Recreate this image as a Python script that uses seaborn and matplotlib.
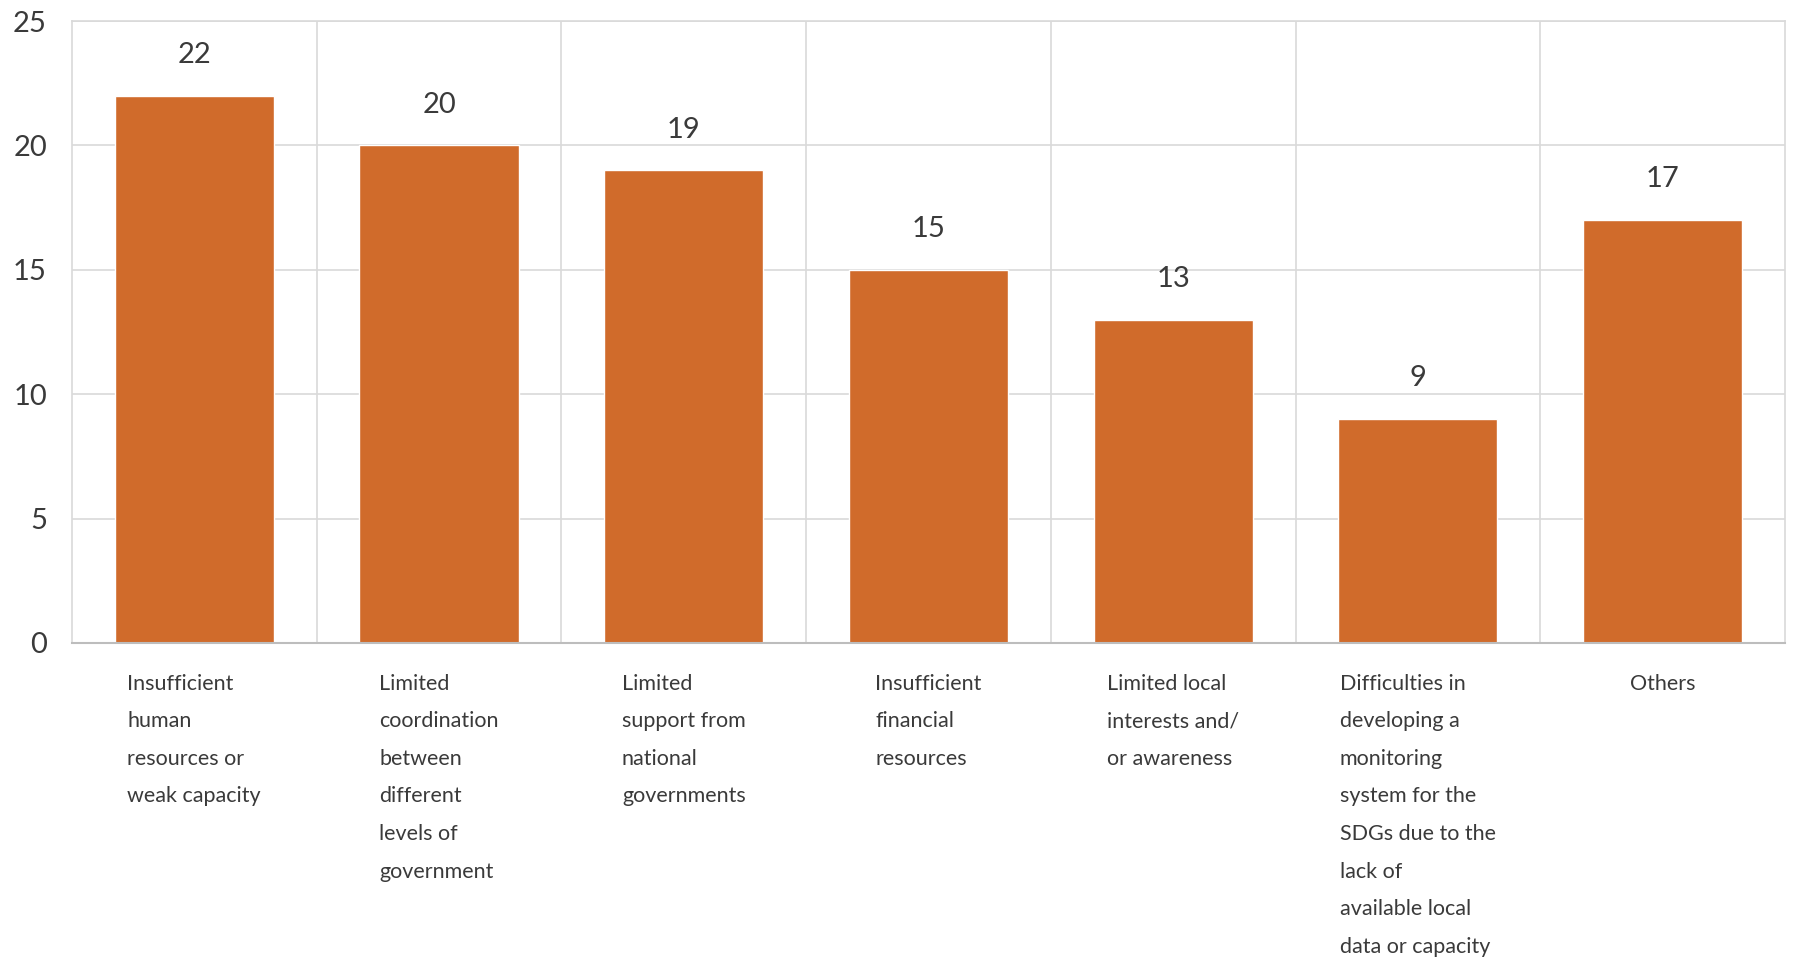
import matplotlib
matplotlib.use("Agg")
import matplotlib.pyplot as plt
import seaborn as sns
import pandas as pd

categories = [
    "Insufficient\nhuman\nresources or\nweak capacity",
    "Limited\ncoordination\nbetween\ndifferent\nlevels of\ngovernment",
    "Limited\nsupport from\nnational\ngovernments",
    "Insufficient\nfinancial\nresources",
    "Limited local\ninterests and/\nor awareness",
    "Difficulties in\ndeveloping a\nmonitoring\nsystem for the\nSDGs due to the\nlack of\navailable local\ndata or capacity",
    "Others",
]
counts = [22, 20, 19, 15, 13, 9, 17]
y_ticks = [0, 5, 10, 15, 20, 25]

BAR_COLOR = "#D06B2B"
TEXT_COLOR = "#3a3a3a"
GRID_COLOR = "#d9d9d9"

sns.set_theme(style="white")
plt.rcParams["font.family"] = ["Lato", "DejaVu Sans"]

df = pd.DataFrame({"category": categories, "count": counts})

fig = plt.figure(figsize=(17.94, 9.71), dpi=100)
ax = fig.add_axes([0.0401, 0.3378, 0.9549, 0.6405])

sns.barplot(data=df, x="category", y="count", color=BAR_COLOR, width=0.65,
            saturation=1, ax=ax)

ax.set_xlim(-0.5, len(categories) - 0.5)
ax.set_ylim(0, 25)
ax.set_yticks(y_ticks)
ax.set_yticklabels([str(t) for t in y_ticks], fontsize=21, color=TEXT_COLOR)

# vertical separators between categories
ax.set_xticks([i + 0.5 for i in range(len(categories) - 1)], minor=True)
ax.grid(axis="y", color=GRID_COLOR, linewidth=1.2)
ax.grid(axis="x", which="minor", color=GRID_COLOR, linewidth=1.2)
ax.set_axisbelow(True)

ax.set_xticks(range(len(categories)))
ax.set_xticklabels(categories, fontsize=15.5, color=TEXT_COLOR,
                   ha="center", va="top", multialignment="left", linespacing=2.1)
ax.tick_params(axis="x", which="both", length=0, pad=22)
ax.tick_params(axis="y", length=0, pad=18)

for side in ["top", "right", "left"]:
    ax.spines[side].set_color(GRID_COLOR)
    ax.spines[side].set_linewidth(1.2)
ax.spines["bottom"].set_color("#bdbdbd")
ax.spines["bottom"].set_linewidth(1.5)

ax.set_xlabel("")
ax.set_ylabel("")

for container in ax.containers:
    ax.bar_label(container, padding=20, fontsize=21, color=TEXT_COLOR)

fig.savefig("out.png", dpi=100)
